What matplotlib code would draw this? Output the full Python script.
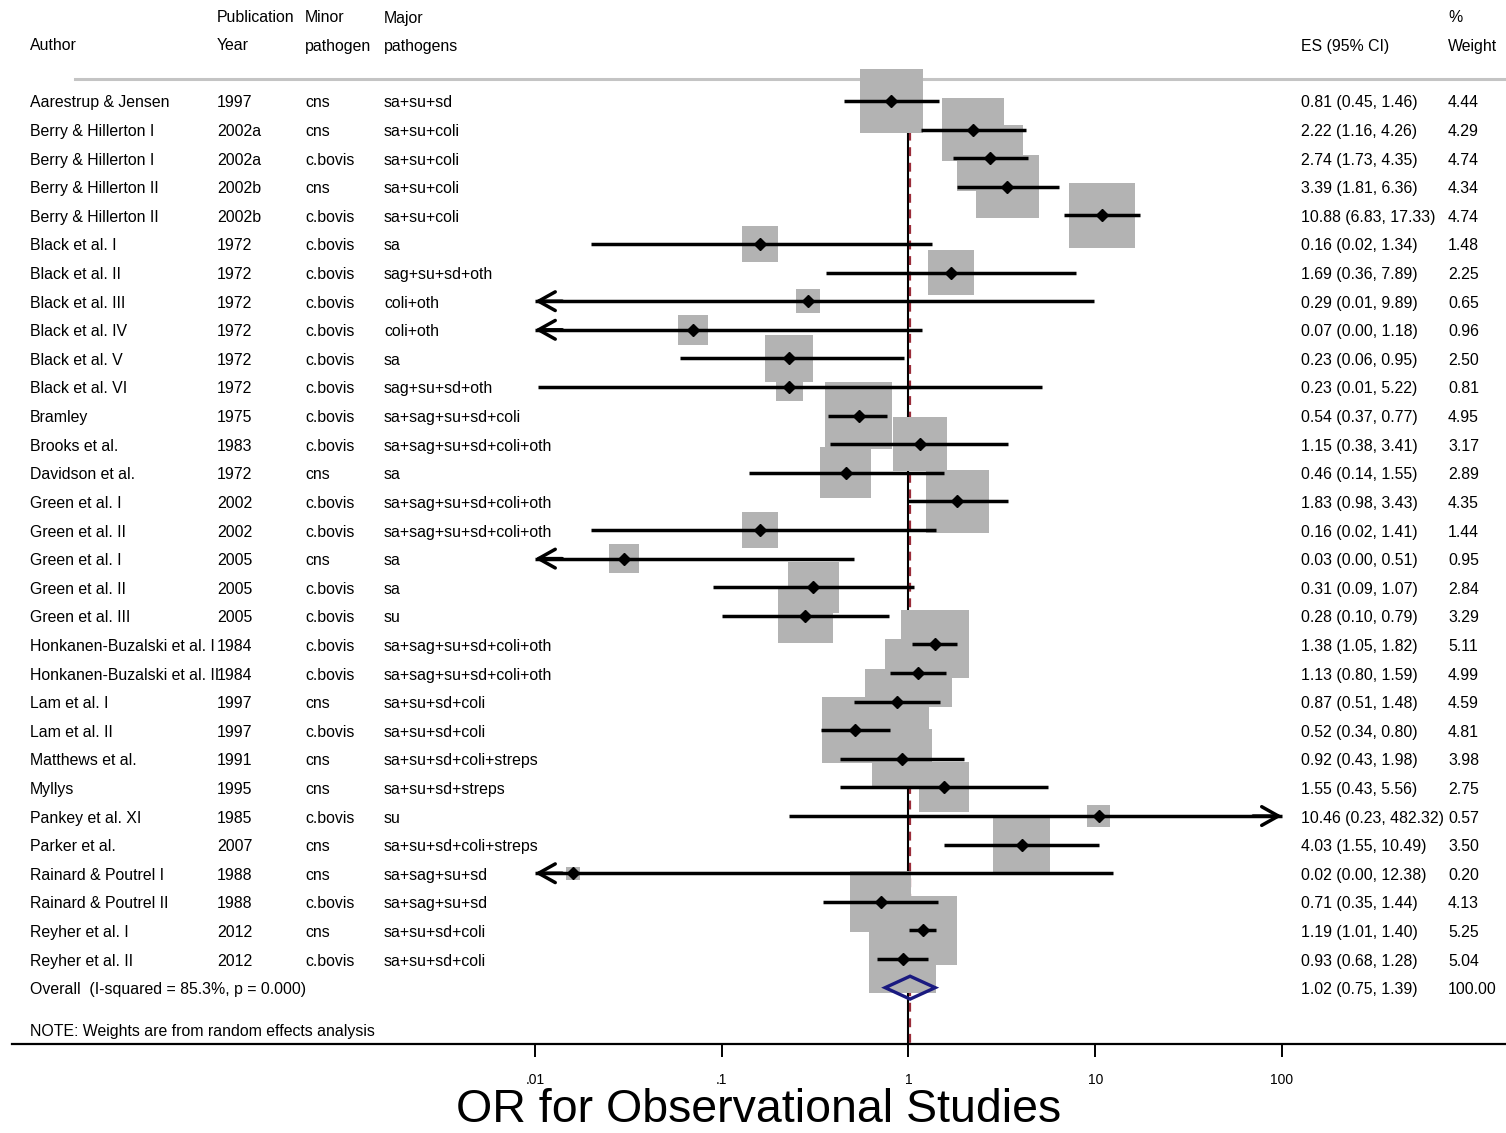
import numpy as np
import matplotlib.pyplot as plt
from matplotlib.transforms import blended_transform_factory
from matplotlib.patches import Polygon

plt.rcParams['font.family'] = ['Liberation Sans', 'DejaVu Sans']

# study data
authors = ["Aarestrup & Jensen", "Berry & Hillerton I", "Berry & Hillerton I",
           "Berry & Hillerton II", "Berry & Hillerton II", "Black et al. I",
           "Black et al. II", "Black et al. III", "Black et al. IV", "Black et al. V",
           "Black et al. VI", "Bramley", "Brooks et al.", "Davidson et al.",
           "Green et al. I", "Green et al. II", "Green et al. I", "Green et al. II",
           "Green et al. III", "Honkanen-Buzalski et al. I", "Honkanen-Buzalski et al. II",
           "Lam et al. I", "Lam et al. II", "Matthews et al.", "Myllys",
           "Pankey et al. XI", "Parker et al.", "Rainard & Poutrel I",
           "Rainard & Poutrel II", "Reyher et al. I", "Reyher et al. II"]
years = ["1997", "2002a", "2002a", "2002b", "2002b", "1972", "1972", "1972", "1972",
         "1972", "1972", "1975", "1983", "1972", "2002", "2002", "2005", "2005", "2005",
         "1984", "1984", "1997", "1997", "1991", "1995", "1985", "2007", "1988", "1988",
         "2012", "2012"]
minor = ["cns", "cns", "c.bovis", "cns", "c.bovis", "c.bovis", "c.bovis", "c.bovis",
         "c.bovis", "c.bovis", "c.bovis", "c.bovis", "c.bovis", "cns", "c.bovis",
         "c.bovis", "cns", "c.bovis", "c.bovis", "c.bovis", "c.bovis", "cns", "c.bovis",
         "cns", "cns", "c.bovis", "cns", "cns", "c.bovis", "cns", "c.bovis"]
major = ["sa+su+sd", "sa+su+coli", "sa+su+coli", "sa+su+coli", "sa+su+coli", "sa",
         "sag+su+sd+oth", "coli+oth", "coli+oth", "sa", "sag+su+sd+oth",
         "sa+sag+su+sd+coli", "sa+sag+su+sd+coli+oth", "sa", "sa+sag+su+sd+coli+oth",
         "sa+sag+su+sd+coli+oth", "sa", "sa", "su", "sa+sag+su+sd+coli+oth",
         "sa+sag+su+sd+coli+oth", "sa+su+sd+coli", "sa+su+sd+coli",
         "sa+su+sd+coli+streps", "sa+su+sd+streps", "su", "sa+su+sd+coli+streps",
         "sa+sag+su+sd", "sa+sag+su+sd", "sa+su+sd+coli", "sa+su+sd+coli"]
es = [0.81, 2.22, 2.74, 3.39, 10.88, 0.16, 1.69, 0.29, 0.07, 0.23, 0.23, 0.54, 1.15,
      0.46, 1.83, 0.16, 0.03, 0.31, 0.28, 1.38, 1.13, 0.87, 0.52, 0.92, 1.55, 10.46,
      4.03, 0.016, 0.71, 1.19, 0.93]
lo = [0.45, 1.16, 1.73, 1.81, 6.83, 0.02, 0.36, 0.0095, 0.004, 0.06, 0.0104, 0.37,
      0.38, 0.14, 0.98, 0.02, 0.002, 0.09, 0.10, 1.05, 0.80, 0.51, 0.34, 0.43, 0.43,
      0.23, 1.55, 0.0003, 0.35, 1.01, 0.68]
hi = [1.46, 4.26, 4.35, 6.36, 17.33, 1.34, 7.89, 9.89, 1.18, 0.95, 5.22, 0.77, 3.41,
      1.55, 3.43, 1.41, 0.51, 1.07, 0.79, 1.82, 1.59, 1.48, 0.80, 1.98, 5.56, 482.32,
      10.49, 12.38, 1.44, 1.40, 1.28]
weight = [4.44, 4.29, 4.74, 4.34, 4.74, 1.48, 2.25, 0.65, 0.96, 2.50, 0.81, 4.95, 3.17,
          2.89, 4.35, 1.44, 0.95, 2.84, 3.29, 5.11, 4.99, 4.59, 4.81, 3.98, 2.75, 0.57,
          3.50, 0.20, 4.13, 5.25, 5.04]
overall = (1.02, 0.75, 1.39)
overall_label = "Overall  (I-squared = 85.3%, p = 0.000)"
ticks = [0.01, 0.1, 1, 10, 100]
tick_labels = [".01", ".1", "1", "10", "100"]

W, H = 1506, 1133
fig = plt.figure(figsize=(W / 100, H / 100), dpi=100)
ax = fig.add_axes([12 / W, 1 - 1044 / H, (W - 12) / W, 1044 / H])
ax.set_xscale('log')
ax.set_xlim(10 ** -4.801, 10 ** 3.2)
ax.set_ylim(32.97, -3.53)
for s in ['top', 'left', 'right']:
    ax.spines[s].set_visible(False)
ax.spines['bottom'].set_linewidth(1.6)
ax.set_yticks([])
ax.set_xticks(ticks)
ax.set_xticklabels(tick_labels, fontsize=10)
ax.minorticks_off()
ax.tick_params(axis='x', direction='out', length=9, width=1.4, pad=12)

rows = np.arange(len(es))
n = len(es)
tr = blended_transform_factory(fig.transFigure, ax.transData)

# header line
ax.plot([75 / W, 1.0], [-0.77, -0.77], transform=tr, color='#c4c4c4', lw=2.2, zorder=1)

# reference lines
ax.plot([1, 1], [-0.55, 32.97], color='black', lw=1.5, zorder=2)
ax.plot([overall[0], overall[0]], [-0.55, 32.97], color='#9b2d3a', lw=1.6,
        dashes=(4, 3), zorder=2.5)

# weight boxes
ax.scatter(es, rows, s=np.array(weight) * 470, marker='s', color='#b3b3b3',
           linewidths=0, zorder=3, clip_on=False)

# confidence intervals
for i in range(n):
    l = max(lo[i], 0.01)
    h = min(hi[i], 100)
    ax.plot([l, h], [i, i], color='black', lw=2.5, zorder=4, solid_capstyle='butt')
    head = dict(arrowstyle='->,head_length=0.75,head_width=0.42', color='black',
                lw=2.5, mutation_scale=16, shrinkA=0, shrinkB=0)
    if lo[i] < 0.01:
        ax.annotate('', xy=(0.01, i), xytext=(0.014, i), arrowprops=head, zorder=4)
    if hi[i] > 100:
        ax.annotate('', xy=(100, i), xytext=(70, i), arrowprops=head, zorder=4)
ax.plot(es, rows, 'D', color='black', markersize=6.5, zorder=5)

# overall diamond
yo = n
dia = Polygon([[overall[1], yo], [overall[0], yo - 0.4], [overall[2], yo],
               [overall[0], yo + 0.4]], closed=True, fill=False,
              edgecolor='#1a1a80', lw=2.4, zorder=5)
ax.add_patch(dia)

# text columns
fs = 11.4
dy = 0.07
cols = {'author': 30, 'year': 217, 'minor': 305, 'major': 384, 'es': 1301, 'wt': 1448}
for i in range(n):
    ax.text(cols['author'] / W, i + dy, authors[i], transform=tr, fontsize=fs, va='center')
    ax.text(cols['year'] / W, i + dy, years[i], transform=tr, fontsize=fs, va='center')
    ax.text(cols['minor'] / W, i + dy, minor[i], transform=tr, fontsize=fs, va='center')
    ax.text(cols['major'] / W, i + dy, major[i], transform=tr, fontsize=fs, va='center')
    ax.text(cols['es'] / W, i + dy, f"{es[i]:.2f} ({lo[i]:.2f}, {hi[i]:.2f})",
            transform=tr, fontsize=fs, va='center')
    ax.text(cols['wt'] / W, i + dy, f"{weight[i]:.2f}", transform=tr, fontsize=fs,
            va='center')
ax.text(cols['author'] / W, yo + dy, overall_label, transform=tr, fontsize=fs, va='center')
ax.text(cols['es'] / W, yo + dy, f"{overall[0]:.2f} ({overall[1]:.2f}, {overall[2]:.2f})",
        transform=tr, fontsize=fs, va='center')
ax.text(cols['wt'] / W, yo + dy, "100.00", transform=tr, fontsize=fs, va='center')
ax.text(cols['author'] / W, 32.48 + dy, "NOTE: Weights are from random effects analysis",
        transform=tr, fontsize=fs, va='center')

# header
hdr_top = [(217, "Publication"), (305, "Minor"), (384, "Major"), (1448, "%")]
hdr_bot = [(30, "Author"), (217, "Year"), (305, "pathogen"), (384, "pathogens"),
           (1301, "ES (95% CI)"), (1448, "Weight")]
for x, t in hdr_top:
    fig.text(x / W, 1 - 18 / H, t, fontsize=fs, va='center')
for x, t in hdr_bot:
    fig.text(x / W, 1 - 46 / H, t, fontsize=fs, va='center')

fig.text(759 / W, 1 - 1132 / H, "OR for Observational Studies", fontsize=33.5,
         ha='center', va='bottom')

fig.savefig('out.png', dpi=100)
